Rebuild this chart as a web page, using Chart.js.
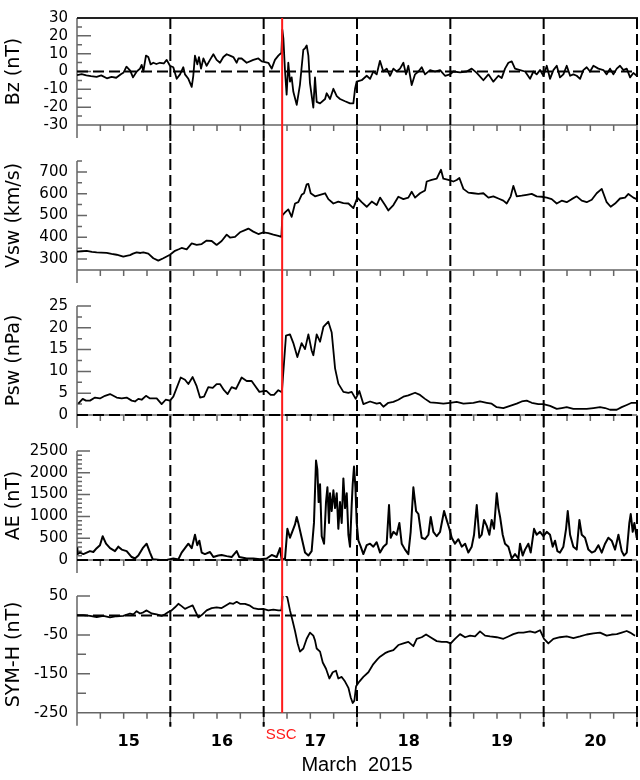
<!DOCTYPE html>
<html><head><meta charset="utf-8">
<script src="https://cdn.jsdelivr.net/npm/chart.js@4"></script>
<style>
html,body{margin:0;padding:0;background:#fff;}
#wrap{position:relative;width:640px;height:780px;overflow:hidden;background:#fff;}
canvas{position:absolute;left:0;}
</style></head><body>
<div id="wrap">
<canvas id="c1" width="640" height="143" style="top:0px"></canvas>
<canvas id="c2" width="640" height="145" style="top:143px"></canvas>
<canvas id="c3" width="640" height="145" style="top:288px"></canvas>
<canvas id="c4" width="640" height="145" style="top:433px"></canvas>
<canvas id="c5" width="640" height="202" style="top:578px"></canvas>
</div>
<script>
// ---- data: [day of March 2015 (UT), value] ----
const bzSeries = [[15.00,-2],[15.05,-1.5],[15.10,-2.2],[15.15,-2.6],[15.21,-3],[15.26,-2.2],[15.32,-3.8],[15.37,-3],[15.42,-3.5],[15.47,-1.5],[15.50,-0.5],[15.53,2.7],[15.57,0.5],[15.60,-3.3],[15.64,0],[15.675,1.6],[15.693,3.7],[15.711,0],[15.739,8.9],[15.764,8.1],[15.789,4],[15.818,4.9],[15.85,4.2],[15.889,4.9],[15.93,4.5],[15.961,6.5],[15.996,3.2],[16.032,2.4],[16.068,-4.1],[16.104,-1.6],[16.139,2.4],[16.157,-1.6],[16.193,-4.1],[16.229,-8.6],[16.246,-2.4],[16.264,8.9],[16.289,4],[16.307,8.1],[16.329,1.6],[16.354,7.3],[16.389,3.2],[16.425,6.5],[16.461,9.7],[16.496,6.5],[16.532,4.9],[16.568,8.1],[16.604,9.7],[16.639,8.9],[16.675,8.1],[16.711,4.9],[16.729,7.3],[16.764,7.3],[16.818,4.9],[16.889,6.5],[16.943,7.3],[16.979,5.7],[17.014,5.3],[17.05,4.9],[17.086,1.6],[17.121,6.5],[17.157,8.9],[17.19,10.5],[17.2,23.5],[17.211,18.6],[17.229,0],[17.246,-13],[17.264,4.9],[17.282,-5.7],[17.30,-3.3],[17.318,-11.4],[17.354,-18.7],[17.389,-7.3],[17.425,12.2],[17.443,13],[17.461,14.6],[17.479,8.9],[17.496,-6.5],[17.532,-20.3],[17.55,-3.3],[17.568,-17],[17.604,-17.9],[17.658,-15.4],[17.675,-12.2],[17.711,-15.4],[17.747,-9.7],[17.783,-13.8],[17.818,-15.4],[17.872,-16.7],[17.925,-17.9],[17.961,-17.9],[17.979,-9.7],[17.996,-5.7],[18.05,-4.9],[18.104,-2.4],[18.14,-4.1],[18.175,0],[18.211,-1.6],[18.246,6],[18.282,0],[18.318,1.6],[18.354,-2.4],[18.39,1.6],[18.425,0],[18.461,1.6],[18.497,4.9],[18.525,-1.6],[18.55,3.2],[18.586,-7.6],[18.622,-1.6],[18.658,0],[18.693,2.4],[18.729,-1.6],[18.783,0.8],[18.836,0],[18.89,0.8],[18.943,-2.4],[18.997,-1.6],[19.033,0],[19.104,-0.5],[19.175,0],[19.229,1.6],[19.283,-0.8],[19.354,-4.9],[19.408,-1.6],[19.461,-5.7],[19.515,-2.4],[19.55,-3.7],[19.586,1.6],[19.622,4.9],[19.658,5.7],[19.693,1.6],[19.747,0.8],[19.801,0],[19.854,-4.1],[19.89,0],[19.925,-1.6],[19.961,0.8],[19.997,-2.4],[20.033,3.2],[20.068,-4.1],[20.104,0.8],[20.14,3.2],[20.175,-3.3],[20.211,-1.6],[20.247,3.2],[20.283,-2.4],[20.318,-1.6],[20.354,-2.4],[20.39,-4.1],[20.425,0.8],[20.461,2.4],[20.497,0],[20.533,3.2],[20.586,1.6],[20.64,0.8],[20.675,-1.6],[20.711,1.6],[20.747,-1.6],[20.783,1.6],[20.818,3.2],[20.854,0.8],[20.89,1.6],[20.926,-3.3],[20.961,-0.8],[20.997,-2.4]];

const vswSeries = [[15.000,334],[15.05,336],[15.104,338],[15.16,333],[15.211,331],[15.26,330],[15.318,329],[15.37,324],[15.425,320],[15.46,316],[15.496,311],[15.53,315],[15.568,318],[15.60,325],[15.639,331],[15.68,328],[15.711,331],[15.764,325],[15.818,304],[15.871,293],[15.925,304],[15.996,320],[16.05,338],[16.09,345],[16.121,351],[16.175,345],[16.229,372],[16.282,365],[16.336,369],[16.389,385],[16.443,383],[16.496,365],[16.55,383],[16.604,412],[16.639,399],[16.693,402],[16.746,423],[16.8,433],[16.836,440],[16.889,426],[16.943,415],[16.996,423],[17.05,419],[17.104,412],[17.157,406],[17.19,402],[17.2,500],[17.229,514],[17.264,528],[17.3,494],[17.336,555],[17.371,561],[17.407,595],[17.432,602],[17.461,643],[17.479,645],[17.504,602],[17.55,588],[17.604,595],[17.658,602],[17.693,575],[17.747,555],[17.8,564],[17.854,557],[17.908,555],[17.961,534],[18.004,582],[18.05,561],[18.104,540],[18.158,564],[18.211,548],[18.247,582],[18.3,548],[18.336,523],[18.39,548],[18.443,586],[18.497,575],[18.55,582],[18.586,609],[18.622,582],[18.675,602],[18.729,615],[18.747,656],[18.8,663],[18.854,669],[18.9,710],[18.925,669],[18.979,663],[19.033,656],[19.068,663],[19.097,672],[19.14,622],[19.193,605],[19.247,602],[19.3,599],[19.354,602],[19.408,582],[19.461,588],[19.515,578],[19.568,568],[19.604,555],[19.647,588],[19.675,636],[19.711,588],[19.765,591],[19.818,595],[19.872,599],[19.925,588],[19.979,586],[20.033,582],[20.086,575],[20.14,555],[20.193,568],[20.247,561],[20.3,575],[20.354,588],[20.408,568],[20.461,561],[20.515,572],[20.568,602],[20.622,622],[20.675,561],[20.718,540],[20.765,555],[20.818,578],[20.872,582],[20.908,599],[20.961,582],[20.997,575]];

const pswSeries = [[15.014,2.6],[15.061,3.7],[15.096,3.3],[15.139,3.3],[15.193,4.0],[15.246,3.8],[15.3,4.4],[15.354,4.8],[15.425,4.0],[15.479,3.8],[15.532,4.0],[15.586,3.3],[15.621,3.1],[15.657,3.7],[15.693,3.5],[15.739,4.4],[15.782,3.8],[15.854,3.8],[15.907,2.5],[15.95,3.5],[15.996,3.3],[16.032,4.2],[16.111,8.6],[16.157,8.1],[16.193,7.1],[16.239,8.7],[16.282,6.6],[16.318,4.0],[16.361,4.2],[16.407,6.4],[16.454,6.2],[16.496,7.1],[16.532,7.1],[16.575,5.7],[16.614,4.8],[16.657,6.4],[16.704,6.0],[16.764,8.6],[16.818,7.8],[16.871,7.8],[16.907,6.7],[16.954,5.3],[16.996,5.5],[17.032,5.5],[17.075,4.6],[17.111,4.6],[17.157,5.7],[17.195,5.2],[17.239,18.2],[17.282,18.5],[17.318,16.5],[17.361,13.3],[17.407,16.5],[17.443,15.1],[17.479,18.5],[17.514,14.8],[17.532,13.7],[17.568,18.5],[17.604,16.8],[17.64,20.2],[17.693,21.4],[17.729,18.9],[17.765,10.7],[17.8,7.2],[17.854,5.3],[17.908,5.1],[17.943,5.3],[17.986,3.7],[18.025,5.5],[18.068,2.5],[18.14,3.1],[18.211,2.6],[18.247,2.8],[18.283,1.9],[18.336,2.8],[18.39,3.0],[18.443,3.5],[18.497,4.2],[18.55,4.5],[18.622,5.1],[18.675,4.6],[18.729,3.7],[18.783,2.9],[18.854,2.8],[18.925,2.6],[18.997,2.8],[19.068,3.0],[19.14,2.6],[19.247,2.8],[19.318,3.1],[19.39,2.8],[19.443,2.6],[19.497,1.8],[19.568,1.6],[19.64,2.1],[19.711,2.6],[19.765,3.1],[19.818,3.3],[19.872,2.8],[19.943,2.5],[19.997,2.5],[20.068,2.1],[20.14,1.4],[20.193,1.6],[20.247,1.8],[20.318,1.4],[20.39,1.4],[20.461,1.4],[20.533,1.6],[20.604,1.8],[20.658,1.6],[20.711,1.2],[20.783,1.2],[20.836,1.8],[20.89,2.3],[20.943,2.8],[20.997,2.8]];

const aeSeries = [[15.0,272],[15.004,136],[15.032,170],[15.068,136],[15.104,170],[15.139,204],[15.175,184],[15.211,272],[15.246,340],[15.275,545],[15.289,477],[15.311,374],[15.354,272],[15.407,204],[15.443,306],[15.479,238],[15.532,204],[15.586,68],[15.621,34],[15.657,102],[15.704,272],[15.746,374],[15.782,170],[15.811,20],[15.889,0],[15.961,0],[16.032,34],[16.086,14],[16.121,170],[16.157,272],[16.193,374],[16.229,272],[16.264,579],[16.289,340],[16.311,443],[16.336,170],[16.371,136],[16.425,184],[16.461,68],[16.514,102],[16.55,116],[16.604,89],[16.657,68],[16.711,204],[16.739,68],[16.818,34],[16.889,34],[16.961,20],[17.032,34],[17.086,116],[17.139,68],[17.175,272],[17.193,0],[17.229,34],[17.254,715],[17.282,511],[17.318,715],[17.336,817],[17.354,987],[17.371,851],[17.407,511],[17.443,170],[17.479,102],[17.514,204],[17.539,851],[17.561,2281],[17.575,2076],[17.589,1328],[17.604,1736],[17.622,545],[17.647,374],[17.668,1328],[17.683,1668],[17.7,851],[17.711,1532],[17.729,1123],[17.747,1600],[17.765,1191],[17.783,1532],[17.8,715],[17.818,1328],[17.836,851],[17.854,1872],[17.872,1191],[17.89,1532],[17.908,579],[17.925,306],[17.943,1259],[17.954,1736],[17.968,2144],[17.983,1668],[17.997,851],[18.015,443],[18.04,306],[18.068,136],[18.104,340],[18.14,374],[18.175,306],[18.211,408],[18.247,170],[18.283,306],[18.318,374],[18.343,1259],[18.361,511],[18.39,647],[18.425,579],[18.454,851],[18.479,374],[18.515,238],[18.55,136],[18.575,647],[18.604,1668],[18.633,1123],[18.658,1055],[18.693,511],[18.729,477],[18.765,579],[18.79,987],[18.818,647],[18.854,545],[18.89,647],[18.933,1123],[18.961,919],[18.99,715],[19.015,511],[19.05,374],[19.086,477],[19.122,306],[19.158,374],[19.193,170],[19.229,306],[19.254,579],[19.283,1259],[19.311,511],[19.336,579],[19.361,919],[19.39,783],[19.418,579],[19.443,919],[19.468,715],[19.497,1532],[19.515,1191],[19.533,987],[19.561,579],[19.586,374],[19.622,306],[19.658,34],[19.693,136],[19.729,34],[19.747,374],[19.775,102],[19.8,238],[19.836,374],[19.861,170],[19.897,715],[19.925,579],[19.961,647],[19.997,545],[20.033,647],[20.068,579],[20.097,306],[20.122,443],[20.147,204],[20.175,170],[20.211,306],[20.24,715],[20.258,1123],[20.283,579],[20.318,306],[20.354,238],[20.383,919],[20.408,579],[20.443,511],[20.479,238],[20.515,170],[20.55,204],[20.586,340],[20.622,170],[20.658,374],[20.693,511],[20.729,443],[20.765,238],[20.801,579],[20.836,204],[20.861,102],[20.89,170],[20.918,851],[20.933,1055],[20.954,647],[20.972,851],[20.997,511]];

const symhSeries = [[15.0,1],[15.068,1],[15.139,-1],[15.211,-4],[15.282,-1],[15.354,-5],[15.425,-2],[15.496,-1],[15.568,5],[15.604,3],[15.639,11],[15.675,5],[15.711,8],[15.746,13],[15.8,5],[15.854,3],[15.907,-1],[15.943,3],[15.979,9],[16.014,13],[16.05,21],[16.086,30],[16.121,24],[16.157,17],[16.193,21],[16.239,26],[16.264,13],[16.3,-5],[16.336,1],[16.389,13],[16.443,19],[16.496,21],[16.55,19],[16.604,27],[16.639,32],[16.675,30],[16.711,35],[16.746,30],[16.8,30],[16.846,26],[16.889,19],[16.943,16],[16.996,17],[17.05,13],[17.104,15],[17.157,13],[17.19,13],[17.204,52],[17.229,54],[17.254,46],[17.282,13],[17.311,-15],[17.336,-40],[17.364,-72],[17.389,-93],[17.425,-85],[17.461,-60],[17.496,-44],[17.532,-52],[17.55,-64],[17.568,-85],[17.604,-93],[17.633,-121],[17.668,-137],[17.704,-162],[17.74,-146],[17.775,-142],[17.8,-162],[17.836,-158],[17.872,-170],[17.908,-186],[17.933,-211],[17.954,-225],[17.972,-219],[17.99,-182],[18.025,-170],[18.068,-158],[18.122,-146],[18.175,-125],[18.218,-113],[18.247,-106],[18.3,-97],[18.336,-93],[18.39,-89],[18.443,-76],[18.497,-72],[18.55,-68],[18.604,-79],[18.64,-60],[18.693,-56],[18.74,-49],[18.8,-58],[18.854,-66],[18.908,-68],[18.961,-68],[19.004,-72],[19.05,-60],[19.104,-48],[19.158,-56],[19.211,-52],[19.265,-54],[19.318,-41],[19.372,-52],[19.425,-54],[19.497,-56],[19.568,-60],[19.622,-54],[19.675,-48],[19.729,-44],[19.783,-44],[19.854,-41],[19.908,-44],[19.961,-38],[20.004,-60],[20.05,-72],[20.104,-60],[20.175,-56],[20.247,-54],[20.318,-58],[20.39,-54],[20.461,-49],[20.533,-46],[20.604,-44],[20.675,-52],[20.729,-49],[20.783,-48],[20.836,-44],[20.89,-40],[20.926,-44],[20.979,-52]];

// ---- ticks / labels ----
const bzTicks = [-30,-20,-10,0,10,20,30];
const vswTicks = [300,400,500,600,700];
const pswTicks = [0,5,10,15,20,25];
const aeTicks = [0,500,1000,1500,2000,2500];
const symhTicks = [-250,-150,-50,50];
const dayLabelTicks = [15.5,16.5,17.5,18.5,19.5,20.5];
const dayBoundaries = [16,17,18,19,20,21];
const sscDay = 17.198;
const xTitle = 'March  2015';

const AXIS = '#666';

const deco = {
  id: 'deco',
  beforeDatasetsDraw(chart, args, o) {
    const ctx = chart.ctx, a = chart.chartArea, xs = chart.scales.x, ys = chart.scales.y;
    const H = chart.height;
    ctx.save();
    ctx.lineCap = 'butt';
    ctx.strokeStyle = AXIS; ctx.lineWidth = 1.5; ctx.setLineDash([]);
    ctx.beginPath();
    ctx.moveTo(a.left, a.top); ctx.lineTo(a.left, a.bottom + 13);
    ctx.moveTo(a.left, a.bottom); ctx.lineTo(a.right, a.bottom);
    for (let i = 0; i <= 24; i++) {
      const d = 15 + i * 0.25;
      const x = xs.getPixelForValue(d);
      const len = (i % 4 === 0) ? 13 : 6;
      ctx.moveTo(x, a.bottom); ctx.lineTo(x, a.bottom + len);
    }
    const n = Math.round((o.max - o.min) / o.minor);
    for (let i = 0; i <= n; i++) {
      const v = o.min + i * o.minor;
      const y = ys.getPixelForValue(v);
      const isMaj = o.major.some(m => Math.abs(m - v) < 1e-6);
      const isMid = o.mid && o.mid.some(m => Math.abs(m - v) < 1e-6);
      const len = isMaj ? o.majLen : (isMid ? 9 : 5);
      ctx.moveTo(a.left, y); ctx.lineTo(a.left + len, y);
    }
    ctx.stroke();
    if (o.topBorder) {
      ctx.strokeStyle = '#222'; ctx.lineWidth = 2;
      ctx.beginPath(); ctx.moveTo(a.left, a.top); ctx.lineTo(a.right + 1, a.top); ctx.stroke();
    }
    ctx.strokeStyle = '#000'; ctx.lineWidth = 2; ctx.setLineDash([11, 5]);
    const y0 = o.first ? a.top : 0;
    const y1 = o.last ? a.bottom + 14 : H;
    ctx.beginPath();
    dayBoundaries.forEach(d => {
      const x = xs.getPixelForValue(d);
      ctx.moveTo(x, y0); ctx.lineTo(x, y1);
    });
    ctx.stroke();
    if (o.zero) {
      const y = ys.getPixelForValue(0);
      ctx.beginPath(); ctx.moveTo(a.left, y); ctx.lineTo(a.right, y); ctx.stroke();
    }
    ctx.restore();
  },
  afterDatasetsDraw(chart, args, o) {
    const ctx = chart.ctx, a = chart.chartArea, xs = chart.scales.x;
    const H = chart.height;
    const x = xs.getPixelForValue(sscDay);
    ctx.save();
    ctx.strokeStyle = '#ff1a1a'; ctx.lineWidth = 2; ctx.setLineDash([]);
    ctx.beginPath();
    ctx.moveTo(x, o.first ? a.top : 0);
    ctx.lineTo(x, o.last ? a.bottom : H);
    ctx.stroke();
    if (o.last) {
      ctx.fillStyle = '#ff1a1a';
      ctx.font = '15px "Liberation Sans", Arial, sans-serif';
      ctx.textAlign = 'center'; ctx.textBaseline = 'middle';
      ctx.fillText('SSC', x - 1, a.bottom + 22.5);
    }
    ctx.restore();
  }
};

function makePanel(id, series, cfg) {
  const data = series.map(p => ({x: p[0], y: p[1]}));
  const last = !!cfg.last;
  return new Chart(document.getElementById(id), {
    type: 'line',
    data: {datasets: [{data, borderColor: '#000', borderWidth: cfg.bw || 1.8, pointRadius: 0, tension: 0, fill: false, borderJoinStyle: 'round'}]},
    options: {
      responsive: false, animation: false, devicePixelRatio: 1,
      layout: {padding: {left: 0, right: 3, top: cfg.padTop, bottom: last ? 0 : cfg.padBottom}},
      plugins: {
        legend: {display: false}, tooltip: {enabled: false},
        deco: {min: cfg.min, max: cfg.max, minor: cfg.minor, major: cfg.ticks, mid: cfg.mid, majLen: cfg.majLen || 13,
               zero: cfg.zero, topBorder: cfg.topBorder, first: cfg.first, last}
      },
      scales: {
        x: {
          type: 'linear', min: 15, max: 21, display: last,
          afterBuildTicks: s => { s.ticks = dayLabelTicks.map(v => ({value: v})); },
          afterFit: s => { s.height = last ? 67.3 : 0; },
          grid: {display: false, drawTicks: false}, border: {display: false},
          ticks: {autoSkip: false, maxRotation: 0, padding: 20, labelOffset: 5, color: '#000',
                  font: {family: 'DejaVu Sans', size: 16, weight: 'bold'},
                  callback: v => String(Math.floor(v))},
          title: {display: true, text: xTitle, color: '#000', padding: {top: 0, bottom: 3},
                  font: {family: 'Liberation Sans', size: 20}}
        },
        y: {
          type: 'linear', min: cfg.min, max: cfg.max,
          afterBuildTicks: s => { s.ticks = cfg.ticks.map(v => ({value: v})); },
          afterFit: s => { s.width = 77; },
          grid: {display: false, drawTicks: false}, border: {display: false},
          ticks: {autoSkip: false, padding: 9, color: '#000', font: {family: 'DejaVu Sans', size: 15},
                  callback: v => String(v)},
          title: {display: true, text: cfg.title, color: '#000', padding: {top: 2.5, bottom: 0},
                  font: {family: 'DejaVu Sans', size: 19}}
        }
      }
    },
    plugins: [deco]
  });
}

makePanel('c1', bzSeries, {title: 'Bz (nT)', min: -30, max: 30, ticks: bzTicks, minor: 5, majLen: 14, zero: true, topBorder: true, first: true, padTop: 10, padBottom: 9.7});
makePanel('c2', vswSeries, {title: 'Vsw (km/s)', min: 250, max: 750, ticks: vswTicks, minor: 50, majLen: 10, padTop: 10.5, padBottom: 11.3});
makePanel('c3', pswSeries, {title: 'Psw (nPa)', min: 0, max: 25, ticks: pswTicks, minor: 2.5, majLen: 14, zero: true, padTop: 12, padBottom: 11});
makePanel('c4', aeSeries, {title: 'AE (nT)', min: 0, max: 2500, ticks: aeTicks, minor: 100, majLen: 13, zero: true, padTop: 11.3, padBottom: 11.3, bw: 2});
makePanel('c5', symhSeries, {title: 'SYM-H (nT)', min: -250, max: 50, ticks: symhTicks, mid: [0, -100, -200], minor: 50, majLen: 13, zero: true, last: true, padTop: 12});
</script>
</body></html>
